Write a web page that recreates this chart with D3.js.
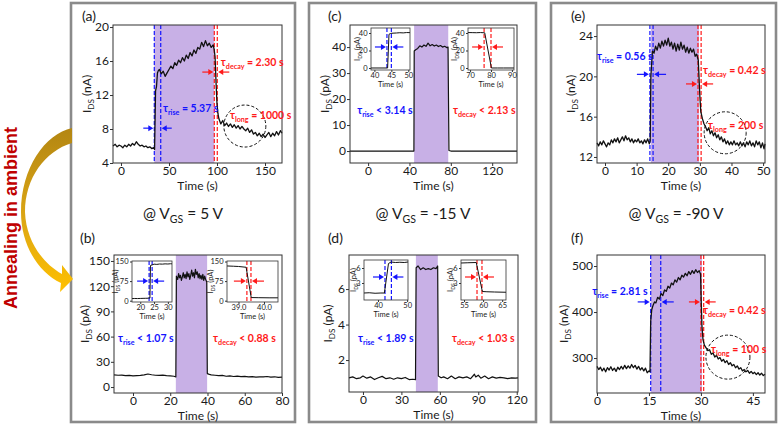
<!DOCTYPE html>
<html><head><meta charset="utf-8">
<script src="https://cdn.jsdelivr.net/npm/d3@7"></script>
<style>body{margin:0;background:#fff;} svg{display:block;font-family:Lato,"Open Sans",sans-serif;}</style>
</head><body><svg id="c" width="778" height="426"></svg>
<script>
// ---------------- DATA ----------------
const aData = [[-8.3,6.0],[-6,6.2],[-4,5.9],[-2,6.1],[0,6.0],[2,5.8],[4,6.1],[6,5.9],[8,6.2],[10,6.0],[12,6.3],[14,6.1],[16,6.5],[18,6.2],[20,6.0],[22,6.1],[24,5.9],[26,6.0],[28,5.8],[30,5.9],[32,5.7],[34,5.8],[35,5.6],[35.5,9.0],[36,12.5],[37,13.0],[38,14.6],[39,14.9],[40,15.0],[42,14.5],[44,14.8],[46,14.2],[48,14.6],[50,15.0],[52,15.4],[54,15.1],[56,15.8],[58,15.5],[60,16.1],[62,15.8],[64,16.4],[66,16.0],[68,16.7],[70,16.3],[72,17.0],[74,16.6],[76,17.3],[78,16.9],[80,17.6],[82,17.4],[84,18.2],[86,17.7],[88,18.4],[90,17.8],[92,18.1],[94,17.6],[96,17.9],[97,17.4],[98,16.5],[99,13.5],[100,11.0],[101,9.8],[102,9.2],[104,8.6],[106,9.0],[108,8.4],[110,8.7],[112,8.3],[114,8.6],[116,8.2],[118,8.5],[120,8.1],[122,8.4],[124,8.0],[126,8.3],[128,8.0],[130,7.8],[132,8.1],[134,7.6],[136,7.9],[138,7.4],[140,7.6],[142,7.2],[144,7.5],[146,7.1],[148,7.4],[150,7.0],[152,7.3],[154,7.6],[156,7.1],[158,7.5],[160,7.2],[162,7.7],[164,7.3],[166,7.8],[167.7,7.5]];
const bData = [[-10.2,14.5],[-8,14],[-6,14.2],[-4,13.5],[-2,13.8],[0,13.2],[2,13.5],[4,13.8],[6,14.5],[8,15.5],[10,14.6],[12,14.0],[14,13.8],[16,14.2],[18,13.6],[20,13.2],[22,12.8],[23,12.0],[23.3,132],[24,128],[24.5,135],[25,130],[25.5,133],[26,127],[26.5,131],[27,136],[27.5,130],[28,134],[28.5,129],[29,137],[29.5,131],[30,135],[30.5,128],[31,133],[31.5,139],[32,132],[32.5,136],[33,130],[33.5,140],[34,134],[34.5,137],[35,130],[35.5,135],[36,129],[36.5,133],[37,128],[37.5,134],[38,127],[38.5,132],[39,128],[39.6,125],[39.9,16],[41,15],[42,14.5],[44,14],[46,13.5],[48,13.8],[50,12.8],[52,13.2],[54,12.5],[56,12.9],[58,12.3],[60,12.6],[62,12.0],[64,12.4],[66,11.8],[68,12.2],[70,12.0],[72,12.5],[74,11.8],[76,12.2],[78,11.6],[80,11.9]];
const cData = [[-17.5,0],[0,0],[20,0],[44.3,0],[44.6,38.5],[46,39],[48,39.5],[50,40.5],[52,40],[54,40.8],[56,40.3],[58,41.5],[60,40.5],[62,41],[64,40.4],[66,40.8],[68,40.2],[70,40.6],[72,40.0],[74,40.3],[76,39.8],[77.3,40],[78.2,0.2],[80,0],[100,0],[144,0]];
const dData = [[-10.9,1.0],[-8,1.05],[-5,0.95],[-2,1.0],[0,1.1],[3,0.98],[6,1.05],[9,0.9],[12,1.0],[15,1.08],[18,0.95],[21,1.0],[24,0.92],[27,1.0],[30,0.95],[33,1.02],[36,0.9],[39,0.92],[41,0.9],[41.5,7.2],[43,7.3],[45,7.1],[47,7.2],[49,7.1],[51,7.15],[53,7.1],[55,7.2],[57,7.15],[58.3,7.3],[58.8,1.1],[61,1.0],[63,1.05],[66,0.95],[69,1.1],[72,0.95],[75,1.05],[78,1.0],[81,1.05],[84,0.95],[87,1.2],[88,1.05],[90,1.15],[92,0.98],[95,1.1],[98,0.95],[101,1.05],[104,0.98],[107,1.02],[110,1.0],[113,0.95],[116,1.0],[119,0.98],[121,1.0]];
const eData = [[-2.5,13.4],[-2,13.1],[-1.5,13.5],[-1,13.2],[-0.5,13.6],[0,13.3],[0.5,13.0],[1,13.4],[1.5,13.2],[2,13.7],[2.5,13.4],[3,13.8],[3.5,13.5],[4,13.9],[4.5,13.4],[5,13.7],[5.5,14.0],[6,13.6],[6.5,14.1],[7,13.7],[7.5,13.9],[8,13.5],[8.5,13.8],[9,13.4],[9.5,13.7],[10,13.5],[10.5,13.8],[11,13.4],[11.5,13.6],[12,13.3],[12.5,13.7],[13,13.4],[13.5,13.8],[14,13.3],[14.3,13.6],[14.5,20.0],[15,22.5],[15.5,22.3],[16,23.0],[16.5,22.6],[17,23.3],[17.5,22.8],[18,23.5],[18.5,23.0],[19,23.6],[19.5,23.1],[20,23.8],[20.5,23.0],[21,23.4],[21.5,22.7],[22,23.3],[22.5,22.5],[23,23.2],[23.5,22.6],[24,23.4],[24.5,22.7],[25,23.1],[25.5,22.4],[26,22.9],[26.5,22.3],[27,22.8],[27.5,22.4],[28,22.7],[28.5,22.0],[29,22.2],[29.5,21.6],[30,18.0],[30.3,16.5],[30.8,15.8],[31.3,15.3],[31.8,15.0],[32.3,14.6],[32.8,14.9],[33.3,14.3],[33.8,14.6],[34.3,14.1],[34.8,14.4],[35.3,13.9],[35.8,14.2],[36.3,13.7],[36.8,14.0],[37.3,13.5],[37.8,13.8],[38.3,13.3],[38.8,13.6],[39.3,13.2],[39.8,13.5],[40.3,13.2],[40.8,13.6],[41.3,13.2],[41.8,13.4],[42.3,13.1],[42.8,13.5],[43.3,13.1],[43.8,13.4],[44.3,13.0],[44.8,13.5],[45.3,13.2],[45.8,13.6],[46.3,13.1],[46.8,13.4],[47.3,13.0],[47.8,13.6],[48.3,13.2],[48.8,13.5],[49.3,12.9],[49.8,13.4],[50.3,12.8],[50.6,13.3]];
const fData = [[0,282],[0.5,275],[1,280],[1.5,272],[2,278],[2.5,270],[3,279],[3.5,274],[4,281],[4.5,273],[5,278],[5.5,271],[6,280],[6.5,275],[7,282],[7.5,276],[8,284],[8.5,277],[9,283],[9.5,278],[10,286],[10.5,279],[11,284],[11.5,276],[12,282],[12.5,274],[13,279],[13.5,272],[14,278],[14.5,268],[15,272],[15.3,270],[15.5,380],[15.8,405],[16.2,415],[16.6,422],[17,420],[17.5,432],[18,428],[18.5,440],[19,436],[19.5,448],[20,445],[20.5,456],[21,452],[21.5,463],[22,459],[22.5,470],[23,465],[23.5,475],[24,470],[24.5,480],[25,476],[25.5,484],[26,479],[26.5,488],[27,482],[27.5,490],[28,484],[28.5,492],[29,486],[29.5,490],[29.9,482],[30.1,420],[30.3,370],[30.6,340],[31,328],[31.5,322],[32,316],[32.5,318],[33,308],[33.5,311],[34,302],[34.5,306],[35,298],[35.5,301],[36,293],[36.5,297],[37,290],[37.5,294],[38,286],[38.5,290],[39,283],[39.5,286],[40,279],[40.5,283],[41,276],[41.5,279],[42,272],[42.5,275],[43,270],[43.5,273],[44,267],[44.5,271],[45,266],[45.5,269],[46,264],[46.5,268],[47,263],[47.5,267],[48,262],[48.5,265]];
const bInsetL = [[17,8],[18,8.5],[19,8.2],[20,8.6],[21,9.0],[22,9.2],[23,9.5],[23.5,10],[23.7,135],[24.3,137],[25,140],[26,139],[27,140.5],[28,140],[29,141],[30,140.5],[31,141.5],[31.5,141]];
const bInsetR = [[38.55,133],[38.8,132],[39,131],[39.3,128],[39.5,12],[39.8,11.5],[40.2,11],[40.55,11]];
const cInsetL = [[39,0],[43.9,0],[44.3,38.5],[44.8,39.5],[45.5,39.8],[46.5,40],[47.5,40.3],[48.5,40.1],[49.5,40.5],[50.5,40.4]];
const cInsetR = [[69,40.5],[71,40.4],[73,40.3],[75,40.5],[77,40.2],[80.2,0],[83,0],[86,0],[91,0]];
const dInsetL = [[35.2,1.0],[37,1.05],[39,0.95],[41,1.0],[42.2,1.0],[43.6,6.9],[44.5,7.2],[46,7.1],[47.5,7.15],[49,7.1],[50.3,7.2]];
const dInsetR = [[54.2,7.0],[56,7.05],[58.2,7.1],[59.8,1.3],[61,1.25],[63,1.2],[66,1.15]];
const gateLabels = ["5 V", "-15 V", "-90 V"];
const panelLetters = ["(a)","(b)","(c)","(d)","(e)","(f)"];

// ---------------- STYLE ----------------
const svg = d3.select('#c');
const PURPLE = '#c8b0e6', BLUE = '#1414ff', RED = '#ff1a1a';
const MAIN = {ts:3, tp:0, fs:12, lfs:12, xlOff:26.5, fw:1};
const INSET = {ts:2, tp:0.5, fs:7.5, lfs:7.5, xlOff:17, fw:0.8};

// outer frames
[[71,3,224,419],[309,3,227,419],[551,3,225,419]].forEach(r=>{
  svg.append('rect').attr('x',r[0]).attr('y',r[1]).attr('width',r[2]).attr('height',r[3])
    .attr('fill','none').attr('stroke','#8a8a8a').attr('stroke-width',2.6);
});

// gold arrow
const defs = svg.append('defs');
const gr = defs.append('linearGradient').attr('id','gold').attr('x1',0).attr('y1',0).attr('x2',0).attr('y2',1);
gr.append('stop').attr('offset','0%').attr('stop-color','#b38612');
gr.append('stop').attr('offset','55%').attr('stop-color','#dca614');
gr.append('stop').attr('offset','100%').attr('stop-color','#ffc000');
svg.append('path').attr('fill','url(#gold)')
  .attr('d','M72,128 C45,134 21,168 21,212 C21,245 38,272 61,283 L60,292 L73,279 L62,265 L62,274 C42,263 26,240 25,212 C25,178 45,151 72,143 Z');
svg.append('text').attr('transform','translate(17,218) rotate(-90)').attr('text-anchor','middle')
  .attr('font-family','"Liberation Sans",Arial,sans-serif').attr('font-weight','bold').attr('font-size',18)
  .attr('fill','#c00000').text('Annealing in ambient');

// helpers
function rich(g, x, y, parts, size, color, opts={}) {
  const t = g.append('text').attr('x',x).attr('y',y).attr('font-size',size).attr('fill',color)
    .attr('text-anchor',opts.anchor||'start').attr('font-weight',opts.weight||'normal');
  let shift = 0;
  parts.forEach(p=>{
    const ts = t.append('tspan').text(p[0]);
    if (p[1]) { ts.attr('font-size',size*0.68).attr('dy',size*0.28 - shift); shift = size*0.28; }
    else { if (shift) ts.attr('dy',-shift); shift = 0; }
  });
  return t;
}
function vline(g, xp, t, b, col) {
  g.append('line').attr('x1',xp).attr('x2',xp).attr('y1',t).attr('y2',b)
    .attr('stroke',col).attr('stroke-width',1.2).attr('stroke-dasharray','4,2');
}
function arrowPair(P, v, t1, t2, col, len) {
  const yp = P.y(v);
  [[P.x(t1)-1, 1],[P.x(t2)+1,-1]].forEach(([xt,dir])=>{
    P.g.append('line').attr('x1',xt-dir*len).attr('x2',xt-dir*4).attr('y1',yp).attr('y2',yp)
      .attr('stroke',col).attr('stroke-width',1.2);
    P.g.append('path').attr('d',`M${xt},${yp} L${xt-dir*5},${yp-3} L${xt-dir*5},${yp+3} Z`).attr('fill',col);
  });
}
function drawPlot(c, o) {
  const g = svg.append('g');
  const x = d3.scaleLinear().domain(c.xd).range([c.l,c.r]);
  const y = d3.scaleLinear().domain(c.yd).range([c.b,c.t]);
  g.append('rect').attr('x',c.l).attr('y',c.t).attr('width',c.r-c.l).attr('height',c.b-c.t).attr('fill','#fff');
  if (c.shade) g.append('rect').attr('x',x(c.shade[0])).attr('y',c.t).attr('width',x(c.shade[1])-x(c.shade[0]))
      .attr('height',c.b-c.t).attr('fill',PURPLE);
  (c.blue||[]).forEach(t=>vline(g,x(t),c.t,c.b,BLUE));
  (c.red||[]).forEach(t=>vline(g,x(t),c.t,c.b,RED));
  g.append('path').datum(c.data).attr('fill','none').attr('stroke','#111').attr('stroke-width',c.lw||1.2)
    .attr('stroke-linejoin','round').attr('d',d3.line().x(d=>x(d[0])).y(d=>y(d[1])));
  const xa = g.append('g').attr('transform',`translate(0,${c.b})`)
    .call(d3.axisBottom(x).tickValues(c.xt).tickSize(o.ts).tickSizeOuter(0).tickPadding(o.tp));
  const ya = g.append('g').attr('transform',`translate(${c.l},0)`)
    .call(d3.axisLeft(y).tickValues(c.yt).tickSize(o.ts).tickSizeOuter(0).tickPadding(o.tp+1));
  [xa,ya].forEach(a=>{
    a.select('.domain').remove();
    a.selectAll('.tick line').attr('stroke','#333');
    a.selectAll('.tick text').attr('font-size',o.fs).attr('fill','#1a1a1a').attr('font-family','Lato,sans-serif');
  });
  g.append('rect').attr('x',c.l).attr('y',c.t).attr('width',c.r-c.l).attr('height',c.b-c.t)
    .attr('fill','none').attr('stroke','#333').attr('stroke-width',o.fw);
  g.append('text').attr('x',(c.l+c.r)/2).attr('y',c.b+o.xlOff).attr('text-anchor','middle')
    .attr('font-size',o.lfs).attr('fill','#1a1a1a').text('Time (s)');
  const yl = g.append('text').attr('transform',`translate(${c.l-c.ylOff},${(c.t+c.b)/2}) rotate(-90)`)
    .attr('text-anchor','middle').attr('font-size',o.lfs).attr('fill','#1a1a1a');
  yl.append('tspan').text('I');
  yl.append('tspan').text('DS').attr('font-size',o.lfs*0.68).attr('dy',o.lfs*0.25);
  yl.append('tspan').text(` (${c.unit})`).attr('dy',-o.lfs*0.25);
  return {g,x,y};
}

// ---------------- MAIN PANELS ----------------
const A = drawPlot({l:113,r:282,t:25,b:163,xd:[-8.3,167.7],yd:[4,20.24],xt:[0,50,100,150],yt:[4,8,12,16,20],
  data:aData,shade:[34.7,97.2],blue:[34.7,41.4],red:[97.2,100.3],unit:'nA',ylOff:22,lw:1.3},MAIN);
const B = drawPlot({l:114,r:282,t:255,b:393,xd:[-10.2,80],yd:[-7.1,157.1],xt:[0,20,40,60,80],yt:[0,30,60,90,120,150],
  data:bData,shade:[23.0,39.8],unit:'pA',ylOff:25},MAIN);
const C = drawPlot({l:350,r:517,t:25,b:163,xd:[-17.5,144],yd:[-4.6,48.5],xt:[0,40,80,120],yt:[0,10,20,30,40],
  data:cData,shade:[44.5,77.5],unit:'pA',ylOff:21},MAIN);
const D = drawPlot({l:349,r:518,t:255,b:392,xd:[-10.9,121],yd:[0.2,7.92],xt:[0,30,60,90,120],yt:[2,4,6],
  data:dData,shade:[41.3,58.4],unit:'pA',ylOff:17},MAIN);
const E = drawPlot({l:597,r:765,t:25,b:163,xd:[-2.53,50.6],yd:[11.4,25.1],xt:[0,10,20,30,40,50],yt:[12,16,20,24],
  data:eData,shade:[14.5,29.7],blue:[14.2,15.2],red:[29.4,30.4],unit:'nA',ylOff:22,lw:1.3},MAIN);
const F = drawPlot({l:597,r:765,t:255,b:393,xd:[0,48.5],yd:[224,524],xt:[0,15,30,45],yt:[300,400,500],
  data:fData,shade:[15.5,30.3],blue:[15.5,18.4],red:[30.0,30.8],unit:'nA',ylOff:29,lw:1.3},MAIN);

// ---------------- INSETS ----------------
const BL = drawPlot({l:132,r:172,t:261,b:302,xd:[17,31.5],yd:[-5,152],xt:[20,25,30],yt:[0,75,150],
  data:bInsetL,blue:[23.2,24.3],unit:'pA',ylOff:14,lw:1},INSET);
const BR = drawPlot({l:227,r:278,t:261,b:302,xd:[38.55,40.55],yd:[-5,152],xt:[39,40],yt:[0,75,150],
  data:bInsetR,red:[39.33,39.49],unit:'pA',ylOff:14,lw:1},INSET);
const CL = drawPlot({l:371,r:410,t:28,b:70,xd:[39,50.5],yd:[-2.3,45.7],xt:[40,45,50],yt:[0,20,40],
  data:cInsetL,blue:[43.7,45],unit:'pA',ylOff:11,lw:1},INSET);
const CR = drawPlot({l:468,r:514,t:28,b:70,xd:[69,91],yd:[-2.3,45.7],xt:[70,80,90],yt:[0,20,40],
  data:cInsetR,red:[76.7,80],unit:'pA',ylOff:11,lw:1},INSET);
const DL = drawPlot({l:364,r:408,t:260,b:300,xd:[35.2,50.3],yd:[-0.4,7.6],xt:[40,50],yt:[3,6],
  data:dInsetL,blue:[42.4,44.6],unit:'pA',ylOff:8,lw:1},INSET);
const DR = drawPlot({l:461,r:506,t:260,b:300,xd:[54.2,66],yd:[-0.4,7.6],xt:[55,60,65],yt:[3,6],
  data:dInsetR,red:[58.4,59.7],unit:'pA',ylOff:8,lw:1},INSET);

// ---------------- ANNOTATIONS ----------------
const TS = 10.5;
function tau(P, t, v, sub, rest, col) {
  rich(P.g, P.x(t), P.y(v), [['τ',0],[sub,1],[rest,0]], TS, col, {weight:'bold'});
}
function circ(P, t, v, r) {
  P.g.append('circle').attr('cx',P.x(t)).attr('cy',P.y(v)).attr('r',r).attr('fill','none')
    .attr('stroke','#111').attr('stroke-width',1).attr('stroke-dasharray','3,2');
}
// (a)
circ(A,129,8.35,21);
tau(A,104,15.4,'decay',' = 2.30 s',RED);
arrowPair(A,14.7,97.2,100.3,RED,11);
tau(A,43.7,10,'rise',' = 5.37 s',BLUE);
arrowPair(A,8.1,34.7,41.4,BLUE,10);
tau(A,113.5,9.2,'long',' = 1000 s',RED);
// (b)
tau(B,-8,53.6,'rise',' < 1.07 s',BLUE);
tau(B,43,53.6,'decay',' < 0.88 s',RED);
arrowPair(BL,75,23.2,24.3,BLUE,11);
arrowPair(BR,75,39.33,39.49,RED,12);
// (c)
tau(C,-10.6,14.2,'rise',' < 3.14 s',BLUE);
tau(C,82,14.2,'decay',' < 2.13 s',RED);
arrowPair(CL,24,43.7,45,BLUE,11);
arrowPair(CR,24,76.7,80,RED,11);
// (d)
tau(D,-3.9,3.04,'rise',' < 1.89 s',BLUE);
tau(D,69.5,3.04,'decay',' < 1.03 s',RED);
arrowPair(DL,4.2,42.4,44.6,BLUE,11);
arrowPair(DR,4.2,58.4,59.7,RED,11);
// (e)
circ(E,38,14.4,21);
tau(E,-2.5,21.6,'rise',' = 0.56 s',BLUE);
arrowPair(E,20.2,14.2,15.2,BLUE,12);
tau(E,31,20.2,'decay',' = 0.42 s',RED);
arrowPair(E,19.25,29.4,30.4,RED,11);
tau(E,32.6,14.8,'long',' = 200 s',RED);
// (f)
circ(F,37.8,302,22);
tau(F,-1.4,437,'rise',' = 2.81 s',BLUE);
arrowPair(F,422,15.5,18.4,BLUE,12);
arrowPair(F,422,30.0,30.8,RED,11);
tau(F,30.6,396,'decay',' = 0.42 s',RED);
tau(F,32.9,311,'long',' = 100 s',RED);

// panel letters
[[82,21],[80,243],[328,21],[328,243],[571,21],[571,243]].forEach((p,i)=>{
  svg.append('text').attr('x',p[0]).attr('y',p[1]).attr('font-size',14).attr('fill','#1a1a1a').text(panelLetters[i]);
});
// gate voltage labels
[183,423,676].forEach((cx,i)=>{
  rich(svg, cx, 219, [['@ V',0],['GS',1],[' = '+gateLabels[i],0]], 15.5, '#1a1a1a', {anchor:'middle'});
});
</script></body></html>
